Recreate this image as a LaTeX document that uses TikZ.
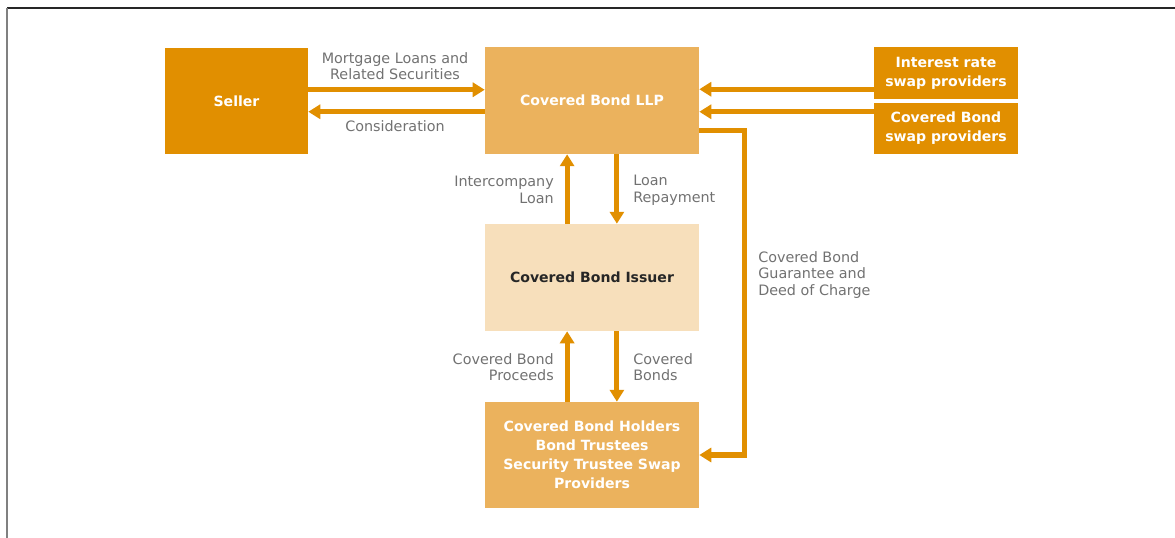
\documentclass[tikz,border=0pt]{standalone}
\usepackage{fontspec}
\setmainfont{DejaVu Sans}
\usepackage{tikz}
\usetikzlibrary{arrows.meta}

\definecolor{darkamber}{HTML}{E18F00}
\definecolor{midamber}{HTML}{EBB25D}
\definecolor{paleamber}{HTML}{F7DFBB}
\definecolor{labelgray}{HTML}{717171}

\begin{document}
\begin{tikzpicture}[x=0.025cm, y=-0.025cm,
    party/.style={inner sep=0pt, align=center, text=white, font=\fontsize{10}{13.5}\selectfont\bfseries},
    flow/.style={darkamber, line width=3.6pt, -{Triangle[length=8.5pt, width=10pt]}},
    flowlabel/.style={text=labelgray, font=\fontsize{10.2}{11.8}\selectfont, inner sep=0pt}]
        \useasboundingbox (0,0) rectangle (1175,538);

        % Frame
        \draw[black!85, line width=1pt] (7,8) -- (1175,8);
        \draw[gray, line width=1pt] (7,8) -- (7,538);

        % Parties
        \node[party, fill=darkamber, minimum width=3.575cm, minimum height=2.65cm] (seller) at (236.5,101) {Seller};
        \node[party, fill=midamber, minimum width=5.35cm, minimum height=2.675cm] (llp) at (592,100.5) {Covered Bond LLP};
        \node[party, fill=darkamber, minimum width=3.6cm, minimum height=1.3cm] (irswap) at (946,73) {Interest rate\\swap providers};
        \node[party, fill=darkamber, minimum width=3.6cm, minimum height=1.275cm] (cbswap) at (946,128.5) {Covered Bond\\swap providers};
        \node[party, fill=paleamber, text=black!85, minimum width=5.35cm, minimum height=2.675cm] (issuer) at (592,277.5) {Covered Bond Issuer};
        \node[party, fill=midamber, minimum width=5.35cm, minimum height=2.65cm] (holders) at (592,455) {Covered Bond Holders\\Bond Trustees\\Security Trustee Swap\\Providers};

        % Seller <-> LLP
        \draw[flow] ([yshift=8pt]seller.east) -- ([yshift=8pt]seller.east -| llp.west);
        \draw[flow] ([yshift=-8pt]llp.west) -- ([yshift=-8pt]llp.west -| seller.east);
        \node[flowlabel, align=center] (mortgage) at (395,66) {Mortgage Loans and\\Related Securities};
        \node[flowlabel] (consid) at (395,126) {Consideration};

        % Swap providers -> LLP
        \coordinate (irin) at ([yshift=8pt]llp.east);
        \coordinate (cbin) at ([yshift=-8pt]llp.east);
        \draw[flow] (irswap.west |- irin) -- (irin);
        \draw[flow] (cbswap.west |- cbin) -- (cbin);

        % LLP <-> Issuer
        \draw[flow] ([xshift=-17.7pt]issuer.north) -- ([xshift=-17.7pt]llp.south);
        \draw[flow] ([xshift=17.7pt]llp.south) -- ([xshift=17.7pt]issuer.north);
        \node[flowlabel, align=right, anchor=east] (icloan) at (554,190) {Intercompany\\Loan};
        \node[flowlabel, align=left, anchor=west] (repay) at (633,190) {Loan\\Repayment};

        % Issuer <-> Holders
        \draw[flow] ([xshift=-17.7pt]holders.north) -- ([xshift=-17.7pt]issuer.south);
        \draw[flow] ([xshift=17.7pt]issuer.south) -- ([xshift=17.7pt]holders.north);
        \node[flowlabel, align=right, anchor=east] (proceeds) at (554,367) {Covered Bond\\Proceeds};
        \node[flowlabel, align=left, anchor=west] (bonds) at (633,367) {Covered\\Bonds};

        % Guarantee
        \draw[flow] ([yshift=-21.6pt]llp.east) -- ++(31.9pt,0) |- (holders.east);
        \node[flowlabel, align=left, anchor=west] (guarantee) at (758,275) {Covered Bond\\Guarantee and\\Deed of Charge};
    \end{tikzpicture}
\end{document}
